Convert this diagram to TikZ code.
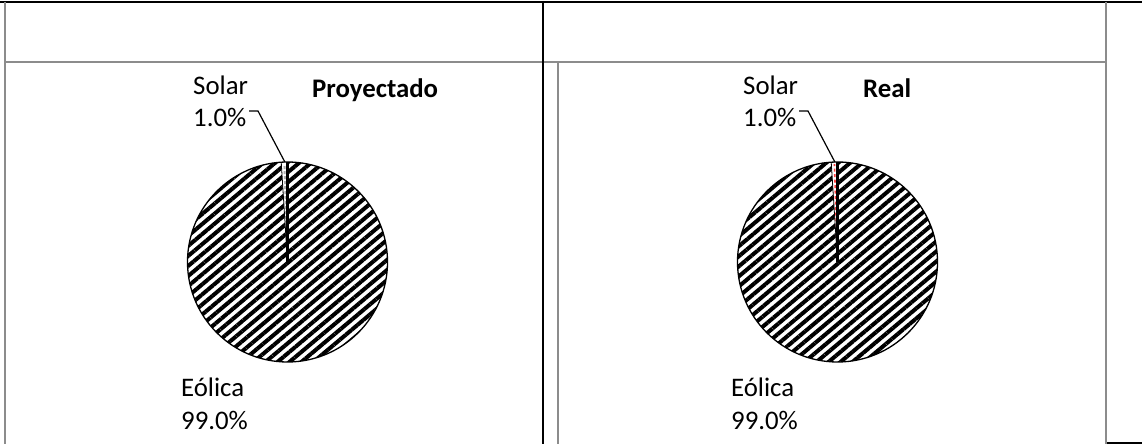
\documentclass[tikz,border=0pt]{standalone}
\usepackage{fontspec}
\setmainfont{Carlito}
\usetikzlibrary{patterns.meta,calc}
\definecolor{rulegray}{HTML}{8C8C8C}
\tikzset{
  blackrule/.style={draw=black,line width=2.3pt},
  grayrule/.style={draw=rulegray,line width=2.2pt},
  lbl/.style={anchor=base west,inner sep=0pt,font=\fontsize{26.8}{32}\selectfont},
  ttl/.style={anchor=base west,inner sep=0pt,font=\fontsize{26.8}{32}\selectfont\bfseries},
  hatch/.style={pattern={Lines[angle=40,distance=7.7pt,line width=4pt]},pattern color=black},
  leader/.style={draw=black,line width=1.2pt}
}
\begin{document}
\begin{tikzpicture}[x=1pt,y=1pt]
\useasboundingbox (0,0) rectangle (1142,444);
% table rules
\coordinate (tl) at (0,442);
\coordinate (tr) at (1142,442);
\draw[blackrule] (tl) -- (tr);
\coordinate (lg1) at (5.3,442);
\coordinate (lg2) at (5.3,0);
\draw[grayrule] (lg1) -- (lg2);
\coordinate (hg1) at (5.3,382);
\coordinate (hg2) at (1106.3,382);
\draw[grayrule] (hg1) -- (hg2);
\coordinate (mb1) at (543,443);
\coordinate (mb2) at (543,0);
\draw[blackrule,line width=2pt] (mb1) -- (mb2);
\coordinate (ig1) at (557.7,382);
\coordinate (ig2) at (557.7,0);
\draw[grayrule] (ig1) -- (ig2);
\coordinate (rg1) at (1106.3,442);
\coordinate (rg2) at (1106.3,0.5);
\draw[grayrule] (rg1) -- (rg2);
\coordinate (br1) at (1107,1.2);
\coordinate (br2) at (1142,1.2);
\draw[blackrule,line width=1.8pt] (br1) -- (br2);

% left pie
\coordinate (cL) at (287.5,182);
\fill[white] (cL) circle (100);
\fill[hatch] (cL) circle (100);
\fill[white] (cL) -- ++(90:100) arc (90:93.6:100) -- cycle;
\draw[rulegray!70,line width=2pt,dash pattern=on 3pt off 2pt] (cL) ++(91.8:8) -- ++(91.8:90);
\draw[line width=1.3pt] (cL) circle (100);
\draw[line width=0.8pt] (cL) -- ++(93.6:100);
\draw[line width=2.2pt] (cL) -- ++(90:100);
\coordinate (lpA) at (249,333);
\coordinate (lpB) at (258,333);
\coordinate (lpC) at ($(cL)+(91.5:100)$);
\node[lbl] (solL) at (193,349) {Solar};
\node[lbl] (pctL) at (193,317) {1.0\%};
\draw[leader] (lpA) -- (lpB) -- (lpC);
\node[ttl] (titL) at (312,346) {Proyectado};
\node[lbl] (eolL) at (181,47) {Eólica};
\node[lbl] (epL) at (181,14) {99.0\%};

% right pie
\coordinate (cR) at (837.5,182);
\fill[white] (cR) circle (100);
\fill[hatch] (cR) circle (100);
\fill[white] (cR) -- ++(90:100) arc (90:93.6:100) -- cycle;
\draw[red!75,line width=1.6pt,dash pattern=on 3pt off 2.5pt] (cR) ++(91.8:8) -- ++(91.8:90);
\draw[line width=1.3pt] (cR) circle (100);
\draw[line width=0.8pt] (cR) -- ++(93.6:100);
\draw[line width=2.2pt] (cR) -- ++(90:100);
\coordinate (rpA) at (799,333);
\coordinate (rpB) at (808,333);
\coordinate (rpC) at ($(cR)+(91.5:100)$);
\node[lbl] (solR) at (743,349) {Solar};
\node[lbl] (pctR) at (743,317) {1.0\%};
\draw[leader] (rpA) -- (rpB) -- (rpC);
\node[ttl] (titR) at (863,346) {Real};
\node[lbl] (eolR) at (731,47) {Eólica};
\node[lbl] (epR) at (731,14) {99.0\%};
\end{tikzpicture}
\end{document}
